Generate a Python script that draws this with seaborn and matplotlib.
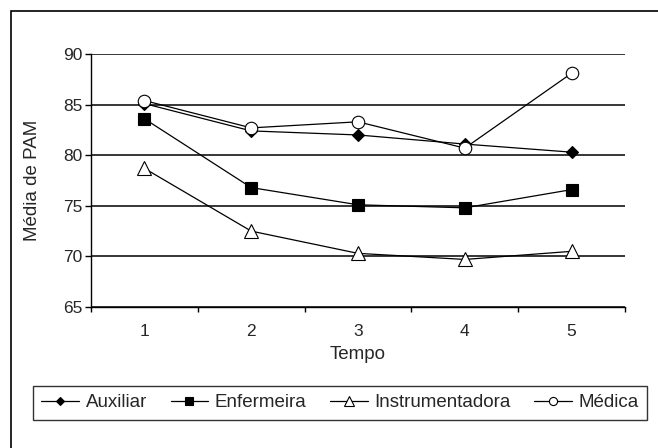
import matplotlib
matplotlib.use("Agg")
import matplotlib.pyplot as plt
from matplotlib.patches import Rectangle
import seaborn as sns
import pandas as pd

tempo = [1, 2, 3, 4, 5]
auxiliar = [85.1, 82.4, 82.0, 81.1, 80.3]
enfermeira = [83.6, 76.8, 75.1, 74.8, 76.6]
instrumentadora = [78.7, 72.5, 70.3, 69.7, 70.5]
medica = [85.4, 82.7, 83.3, 80.7, 88.1]

series = {
    "Auxiliar": auxiliar,
    "Enfermeira": enfermeira,
    "Instrumentadora": instrumentadora,
    "Médica": medica,
}

df = pd.concat(
    [pd.DataFrame({"Tempo": tempo, "PAM": vals, "Grupo": name}) for name, vals in series.items()],
    ignore_index=True,
)

sns.set_theme(style="white")
plt.rcParams["font.family"] = ["Liberation Sans", "DejaVu Sans"]

W, H = 658, 448
fig = plt.figure(figsize=(W / 100, H / 100), dpi=100)
ax = fig.add_axes([91 / W, 1 - 307 / H, 534 / W, 253 / H])

styles = {
    "Auxiliar": dict(marker="D", markerfacecolor="black", markersize=6.5),
    "Enfermeira": dict(marker="s", markerfacecolor="black", markersize=8),
    "Instrumentadora": dict(marker="^", markerfacecolor="white", markersize=10),
    "Médica": dict(marker="o", markerfacecolor="white", markersize=9),
}

for name in series:
    sub = df[df["Grupo"] == name]
    sns.lineplot(
        data=sub, x="Tempo", y="PAM", ax=ax, color="black", linewidth=0.9,
        markeredgecolor="black", markeredgewidth=0.8, label=name, **styles[name],
    )

ax.set_xlim(0.5, 5.5)
ax.set_ylim(65, 90)
ax.set_yticks([65, 70, 75, 80, 85, 90])
ax.set_xticks(tempo)
ax.set_xticks([0.5, 1.5, 2.5, 3.5, 4.5, 5.5], minor=True)
ax.tick_params(axis="x", which="major", length=0, labelsize=12.5, pad=12)
ax.tick_params(axis="x", which="minor", length=3.6, width=1, color="black", direction="out", bottom=True)
ax.tick_params(axis="y", length=4.3, width=1, color="black", direction="out", left=True, labelsize=12.5, pad=2)
ax.grid(axis="y", color="black", linewidth=1.1)
ax.set_axisbelow(True)
for side in ["top", "right"]:
    ax.spines[side].set_visible(False)
for side in ["left", "bottom"]:
    ax.spines[side].set_color("black")
    ax.spines[side].set_linewidth(1)
ax.set_xlabel("Tempo", fontsize=13.5)
ax.set_ylabel("Média de PAM", fontsize=13.5)
ax.xaxis.set_label_coords(0.5, -0.155)
ax.yaxis.set_label_coords(-0.094, 0.5)

ax.get_legend().remove()
handles, labels = ax.get_legend_handles_labels()
leg = fig.legend(
    handles, labels, loc="center", ncol=4, mode="expand",
    bbox_to_anchor=(33 / W, 1 - 423 / H, 614 / W, 41 / H),
    frameon=True, fancybox=False, edgecolor="black", fontsize=13.5,
    markerscale=0.65, handlelength=2.0, handletextpad=0.35, columnspacing=1.0,
    borderpad=0.45, borderaxespad=0,
)
leg.get_frame().set_linewidth(1)

# outer frame around the chart
fig.patches.append(Rectangle((11 / W, -0.5), 2.0, 1.5 - 11 / H, transform=fig.transFigure,
                             fill=False, edgecolor="black", linewidth=1.2))

fig.savefig("out.png", dpi=100, facecolor="white")
